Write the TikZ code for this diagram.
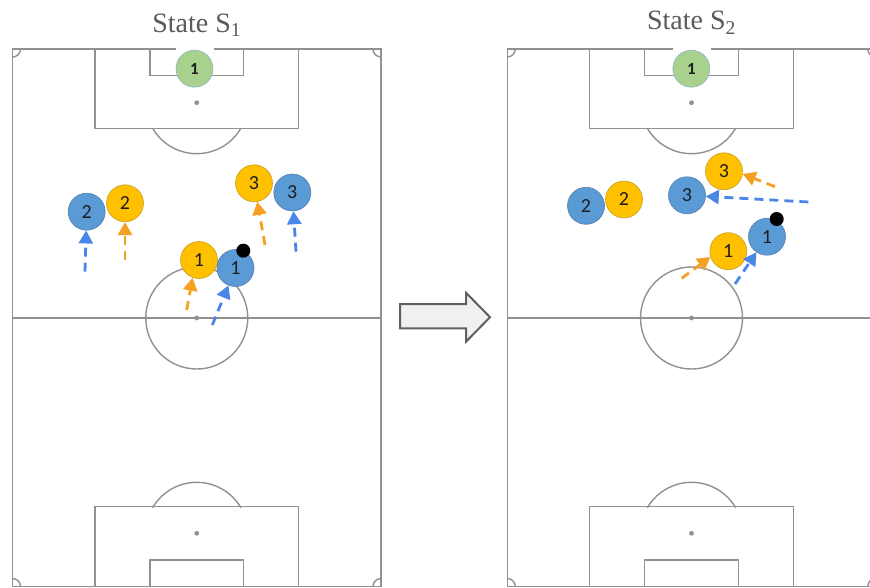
\documentclass[tikz,border=0pt]{standalone}
\usepackage{fontspec}
\setmainfont{Liberation Serif}
\newfontfamily\numfont{Carlito}
\usetikzlibrary{arrows.meta}
\definecolor{pline}{RGB}{145,145,145}
\definecolor{yfill}{RGB}{255,192,0}
\definecolor{yline}{RGB}{200,160,40}
\definecolor{bfill}{RGB}{91,155,213}
\definecolor{bline}{RGB}{80,125,170}
\definecolor{gfill}{RGB}{169,209,142}
\definecolor{gline}{RGB}{140,180,200}
\definecolor{oarrc}{RGB}{245,160,32}
\definecolor{barrc}{RGB}{74,134,232}
\definecolor{titlec}{RGB}{90,90,90}
\definecolor{numc}{RGB}{30,30,30}
\definecolor{bafill}{RGB}{240,240,240}
\definecolor{baline}{RGB}{95,95,95}
\tikzset{
  pl/.style={draw=pline, line width=1.4pt},
  player/.style={circle, minimum size=37pt, inner sep=0pt, line width=0.6pt,
     font=\numfont\fontsize{20}{20}\selectfont, text=numc},
  yp/.style={player, fill=yfill, draw=yline},
  bp/.style={player, fill=bfill, draw=bline},
  gk/.style={player, fill=gfill, draw=gline, font=\numfont\bfseries\fontsize{17}{17}\selectfont},
  ballst/.style={circle, fill=black, minimum size=14pt, inner sep=0pt},
  oarr/.style={draw=oarrc, line width=2.8pt, dash pattern=on 9pt off 6pt, -{Triangle[length=13pt,width=14pt]}},
  barr/.style={draw=barrc, line width=2.8pt, dash pattern=on 9pt off 6pt, -{Triangle[length=13pt,width=14pt]}},
  titlest/.style={anchor=base, text=titlec, font=\fontsize{28}{30}\selectfont},
  pitch/.pic={
    \draw[pl] (12.5,49) rectangle (381,586.5);
    \draw[pl] (12.5,318) -- (381,318);
    \draw[pl] (196.75,318) circle[radius=51];
    \fill[pline] (196.75,318) circle[radius=2.4];
    % top
    \draw[pl] (95,49) -- (95,128.3) -- (298.5,128.3) -- (298.5,49);
    \draw[pl] (150,49) -- (150,75.3) -- (243.5,75.3) -- (243.5,49);
    \fill[pline] (196.75,102.7) circle[radius=2.4];
    \draw[pl] (196.75,102.7) ++(30:51) arc[start angle=30, end angle=150, radius=51];
    % bottom
    \draw[pl] (95,586.5) -- (95,506.7) -- (298.5,506.7) -- (298.5,586.5);
    \draw[pl] (150,586.5) -- (150,560) -- (243.5,560) -- (243.5,586.5);
    \fill[pline] (196.75,533.3) circle[radius=2.4];
    \draw[pl] (196.75,533.3) ++(210:51) arc[start angle=210, end angle=330, radius=51];
    % corners
    \draw[pl] (20.5,49) arc[start angle=0, end angle=90, radius=8];
    \draw[pl] (381,57) arc[start angle=90, end angle=180, radius=8];
    \draw[pl] (12.5,578.5) arc[start angle=270, end angle=360, radius=8];
    \draw[pl] (373,586.5) arc[start angle=180, end angle=270, radius=8];
  }
}
\begin{document}
\begin{tikzpicture}[x=1pt,y=-1pt]
\useasboundingbox (0,0) rectangle (870,588);
\clip (0,0) rectangle (870,588);
\fill[white] (0,0) rectangle (870,588);

\pic at (0,0) {pitch};
\pic at (494.75,0) {pitch};

% titles
\node[titlest] (t1) at (196.75,32.5) {State S\textsubscript{1}};
\node[titlest] (t2) at (691.5,29.8) {State S\textsubscript{2}};

% transition arrow
\draw[draw=baline, fill=bafill, line width=2pt, line join=miter]
  (400,304) -- (466,304) -- (466,292.7) -- (490,317.2) -- (466,341.7) -- (466,328.3) -- (400,328.3) -- cycle;

% ---------- State S1 ----------
\fill[white] (175.5,45) rectangle (213.5,53);
\node[gk] (Lgk) at (194.5,68.7) {1};
\node[bp] (Lb2) at (86.7,211.7) {2};
\node[yp] (Ly2) at (125,203.3) {2};
\node[yp] (Ly3) at (254,183.3) {3};
\node[bp] (Lb3) at (292.3,192.5) {3};
\node[yp] (Ly1) at (199,260) {1};
\node[bp] (Lb1) at (235.5,268) {1};
\node[ballst] (Lball) at (243.3,250.7) {};

\coordinate (Lb2t) at (85,271.7);
\coordinate (Ly2t) at (125,260);
\coordinate (Ly3t) at (265,245);
\coordinate (Lb3t) at (296,251.7);
\coordinate (Ly1t) at (186.7,310);
\coordinate (Lb1t) at (212.3,325);
\draw[barr] (Lb2t) -- (Lb2);
\draw[oarr] (Ly2t) -- (Ly2);
\draw[oarr] (Ly3t) -- (Ly3);
\draw[barr] (Lb3t) -- (Lb3);
\draw[oarr] (Ly1t) -- (Ly1.250);
\draw[barr] (Lb1t) -- (Lb1);

% ---------- State S2 ----------
\fill[white] (672.5,45) rectangle (710.5,53);
\node[gk] (Rgk) at (691.3,68.7) {1};
\node[bp] (Rb2) at (586,205.8) {2};
\node[yp] (Ry2) at (624,199.5) {2};
\node[yp] (Ry3) at (724,171.3) {3};
\node[bp] (Rb3) at (687,195.3) {3};
\node[yp] (Ry1) at (728.3,251.2) {1};
\node[bp] (Rb1) at (767,236.7) {1};
\node[ballst] (Rball) at (776.7,219) {};

\coordinate (Ry3t) at (775,186.7);
\coordinate (Rb3t) at (808.3,202);
\coordinate (Ry1t) at (681.7,278.3);
\coordinate (Rb1t) at (735,284);
\draw[oarr] (Ry3t) -- (Ry3.-8);
\draw[barr] (Rb3t) -- (Rb3);
\draw[oarr] (Ry1t) -- (Ry1.198);
\draw[barr] (Rb1t) -- (Rb1);
\end{tikzpicture}
\end{document}
